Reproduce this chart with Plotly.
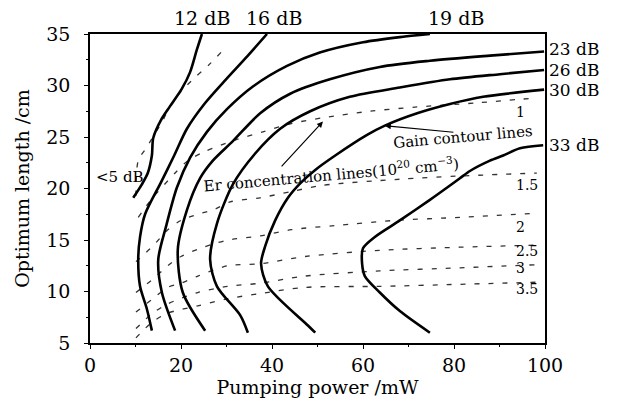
import plotly.graph_objects as go

# ---------------- data ----------------
# Gain contour lines (solid): pumping power P (mW) and optimum length L (cm)
g12_P = [9.5, 11.4, 12.7, 13.6, 13.9, 15.8, 17.6, 20.2, 22.0, 23.5, 24.6]
g12_L = [19.1, 20.4, 21.5, 23.2, 24.9, 26.8, 28.0, 29.7, 31.3, 33.5, 35.0]

g16_P = [13.6, 12.5, 11.0, 10.6, 11.0, 12.1, 15.6, 18.5, 21.3, 25.3, 29.9, 34.5, 38.9]
g16_L = [6.2, 8.3, 10.5, 13.1, 15.3, 17.5, 20.6, 23.2, 25.8, 28.3, 30.6, 32.8, 35.0]

g19_P = [18.7, 15.8, 15.0, 16.7, 19.1, 22.0, 25.7, 30.1, 35.8, 43.3, 50.5, 60.0, 68.1, 74.7]
g19_L = [6.2, 9.9, 13.1, 16.3, 20.1, 23.0, 25.5, 27.7, 29.9, 31.9, 33.2, 34.2, 34.7, 35.0]

g23_P = [25.3, 20.4, 19.3, 21.3, 24.2, 27.0, 31.4, 37.4, 44.0, 52.7, 63.7, 74.7, 87.9, 99.8]
g23_L = [6.2, 9.9, 14.1, 17.9, 21.0, 22.7, 24.6, 27.3, 29.2, 30.6, 31.8, 32.4, 32.9, 33.3]

g26_P = [34.7, 33.0, 27.9, 26.4, 27.9, 31.4, 36.3, 41.8, 48.4, 57.1, 68.1, 79.1, 90.1, 99.8]
g26_L = [6.0, 7.7, 10.5, 13.1, 16.6, 20.4, 23.4, 25.8, 27.5, 28.9, 29.8, 30.6, 31.1, 31.5]

g30_P = [49.5, 47.9, 39.1, 37.6, 38.5, 40.7, 43.5, 46.2, 49.5, 53.9, 60.9, 64.8, 71.9, 79.1, 86.4, 99.8]
g30_L = [6.0, 6.7, 10.5, 12.7, 14.4, 16.9, 19.1, 20.5, 21.8, 23.2, 25.2, 26.1, 27.3, 28.2, 28.9, 29.6]

g33_P = [74.7, 68.1, 63.7, 60.4, 59.8, 60.0, 62.6, 68.1, 74.7, 78.5, 81.3, 83.5, 87.9, 90.8, 94.5, 99.6]
g33_L = [6.0, 8.1, 9.9, 11.5, 12.7, 14.2, 15.3, 16.9, 18.9, 20.1, 21.0, 21.7, 22.7, 23.2, 23.9, 24.2]

gain_labels = ["12 dB", "16 dB", "19 dB", "23 dB", "26 dB", "30 dB", "33 dB"]

# Er concentration lines (dashed), 10^20 cm^-3
c05_P = [10.1, 10.6, 12.3, 16.0, 17.6, 20.0, 23.1, 25.9, 29.2]
c05_L = [19.3, 22.7, 23.9, 26.6, 28.0, 29.4, 30.8, 31.9, 33.4]

c10_P = [10.6, 13.4, 18.7, 21.5, 25.3, 31.9, 38.0, 44.2, 51.6, 61.5, 71.4, 84.6, 98.2]
c10_L = [17.2, 18.9, 21.5, 22.7, 23.6, 24.7, 25.5, 26.3, 26.9, 27.5, 27.9, 28.3, 28.8]

c15_P = [10.1, 13.8, 17.1, 20.0, 23.7, 27.5, 30.8, 37.4, 44.2, 51.0, 68.1, 80.7, 98.2]
c15_L = [12.9, 14.4, 16.0, 16.9, 17.5, 18.0, 18.7, 19.1, 19.7, 20.3, 20.9, 21.2, 21.5]

c20_P = [10.1, 13.8, 17.1, 20.0, 23.7, 27.0, 30.3, 37.4, 44.2, 53.8, 67.0, 81.3, 98.2]
c20_L = [9.9, 11.2, 12.5, 13.4, 14.1, 14.6, 15.0, 15.4, 16.0, 16.4, 16.9, 17.2, 17.6]

c25_P = [10.1, 13.8, 17.1, 20.0, 23.7, 30.3, 37.4, 47.3, 63.7, 81.3, 98.2]
c25_L = [8.0, 9.3, 10.4, 10.8, 11.5, 12.5, 12.7, 13.4, 14.0, 14.3, 14.5]

c30_P = [10.1, 13.8, 17.1, 23.7, 30.3, 37.4, 47.3, 63.7, 81.3, 98.2]
c30_L = [6.4, 7.9, 8.8, 9.9, 10.5, 10.8, 11.5, 12.0, 12.3, 12.6]

c35_P = [10.1, 13.6, 17.1, 23.7, 30.3, 37.4, 47.3, 63.7, 81.3, 98.2]
c35_L = [5.5, 7.0, 7.9, 8.6, 9.3, 9.8, 10.4, 10.5, 10.7, 10.9]

conc_labels = ["1", "1.5", "2", "2.5", "3", "3.5"]

x_ticks = [0, 20, 40, 60, 80, 100]
y_ticks = [5, 10, 15, 20, 25, 30, 35]

# ---------------- figure ----------------
FONT = "DejaVu Serif"
fig = go.Figure()

conc_series = [(c05_P, c05_L), (c10_P, c10_L), (c15_P, c15_L), (c20_P, c20_L),
               (c25_P, c25_L), (c30_P, c30_L), (c35_P, c35_L)]
for P, L in conc_series:
    fig.add_trace(go.Scatter(x=P, y=L, mode="lines",
                             line=dict(color="#333333", width=1.3, dash="5px,9px", shape="spline", smoothing=0.8),
                             showlegend=False, hoverinfo="skip"))

gain_series = [(g12_P, g12_L), (g16_P, g16_L), (g19_P, g19_L), (g23_P, g23_L),
               (g26_P, g26_L), (g30_P, g30_L), (g33_P, g33_L)]
for P, L in gain_series:
    fig.add_trace(go.Scatter(x=P, y=L, mode="lines",
                             line=dict(color="black", width=2.6, shape="spline", smoothing=0.8),
                             showlegend=False, hoverinfo="skip"))

ann = []
# top labels (paper coordinates, above the frame)
for txt, xp in zip(gain_labels[:3], [0.246, 0.405, 0.805]):
    ann.append(dict(x=xp, y=1.052, xref="paper", yref="paper", text=txt, showarrow=False,
                    xanchor="center", yanchor="middle", font=dict(family=FONT, size=19, color="black")))
# right labels (paper coordinates, right of the frame)
for txt, yp in zip(gain_labels[3:], [0.952, 0.882, 0.818, 0.640]):
    ann.append(dict(x=1.006, y=yp, xref="paper", yref="paper", text=txt, showarrow=False,
                    xanchor="left", yanchor="middle", borderpad=0,
                    font=dict(family=FONT, size=17, color="black")))
# concentration labels
for txt, yp in zip(conc_labels, [27.45, 20.3, 16.3, 13.95, 12.3, 10.25]):
    ann.append(dict(x=93.4, y=yp, xref="x", yref="y", text=txt, showarrow=False,
                    xanchor="left", yanchor="middle", borderpad=0,
                    font=dict(family=FONT, size=14, color="black")))
# <5 dB
ann.append(dict(x=6.5, y=21.15, xref="x", yref="y", text="&lt;5 dB", showarrow=False,
                xanchor="center", yanchor="middle", font=dict(family=FONT, size=15, color="black")))
# rotated descriptions
ann.append(dict(x=53.0, y=21.4, xref="x", yref="y",
                text="Er concentration lines(10<sup>20</sup> cm<sup>−3</sup>)", showarrow=False,
                textangle=-5, font=dict(family=FONT, size=15, color="black")))
ann.append(dict(x=82.0, y=25.0, xref="x", yref="y", text="Gain contour lines", showarrow=False,
                textangle=-5, font=dict(family=FONT, size=15, color="black")))
# arrows
ann.append(dict(x=51.2, y=26.5, ax=41.8, ay=22.0, xref="x", yref="y", axref="x", ayref="y",
                text="", showarrow=True, arrowhead=2, arrowsize=1, arrowwidth=1.2, arrowcolor="black"))
ann.append(dict(x=64.8, y=26.1, ax=80.2, ay=25.45, xref="x", yref="y", axref="x", ayref="y",
                text="", showarrow=True, arrowhead=2, arrowsize=1, arrowwidth=1.2, arrowcolor="black"))

fig.update_layout(
    width=622, height=405,
    margin=dict(l=90, r=77, t=34, b=57),
    paper_bgcolor="white", plot_bgcolor="white",
    annotations=ann,
    font=dict(family=FONT, color="black"),
)
fig.update_xaxes(range=[0, 100], tickvals=x_ticks, ticks="outside", ticklen=4, tickwidth=1.2,
                 tickcolor="black", showline=True, linecolor="black", linewidth=1.5, mirror=True,
                 showgrid=False, zeroline=False, tickfont=dict(family=FONT, size=19),
                 minor=dict(dtick=10, ticks="outside", ticklen=2, tickcolor="black"),
                 title=dict(text="Pumping power /mW", font=dict(family=FONT, size=19), standoff=4))
fig.update_yaxes(range=[5, 35], tickvals=y_ticks, ticks="outside", ticklen=4, tickwidth=1.2,
                 tickcolor="black", showline=True, linecolor="black", linewidth=1.5, mirror=True,
                 showgrid=False, zeroline=False, tickfont=dict(family=FONT, size=19),
                 ticklabelstandoff=10,
                 minor=dict(dtick=2.5, ticks="outside", ticklen=2, tickcolor="black"),
                 title=dict(text="Optimum length /cm", font=dict(family=FONT, size=19), standoff=12))

fig.write_html("out.html")
